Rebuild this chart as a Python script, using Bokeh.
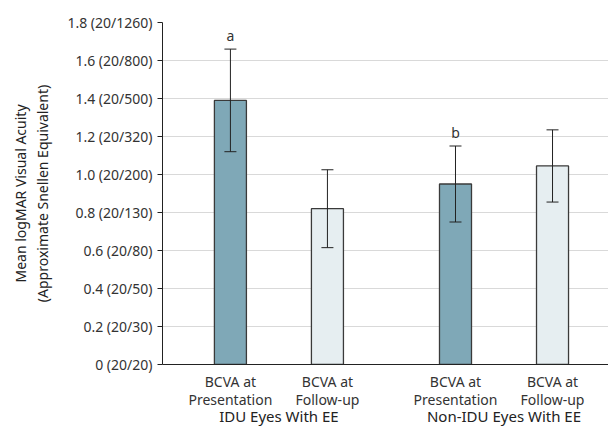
from bokeh.plotting import figure
from bokeh.models import ColumnDataSource, Range1d, FixedTicker, LinearAxis, Whisker, TeeHead
from bokeh.core.properties import value
from bokeh.embed import file_html
from bokeh.resources import INLINE

groups = ["IDU Eyes With EE", "Non-IDU Eyes With EE"]
conditions_line1 = ["BCVA at", "BCVA at"]
conditions_line2 = ["Presentation", "Follow-up"]
means = [1.39, 0.82, 0.95, 1.045]
upper = [1.66, 1.025, 1.15, 1.235]
lower = [1.12, 0.615, 0.75, 0.855]
annotations = ["a", "", "b", ""]
y_ticks = [0, 0.2, 0.4, 0.6, 0.8, 1.0, 1.2, 1.4, 1.6, 1.8]
y_tick_labels = ["0 (20/20)", "0.2 (20/30)", "0.4 (20/50)", "0.6 (20/80)", "0.8 (20/130)",
                 "1.0 (20/200)", "1.2 (20/320)", "1.4 (20/500)", "1.6 (20/800)", "1.8 (20/1260)"]

FONT = "Noto Sans"
GAP = 0.32
xs, fills, over1, over2 = [], [], {}, {}
for gi, g in enumerate(groups):
    for ci in range(len(conditions_line1)):
        x = gi * (2 + GAP) + ci + 0.5
        xs.append(x)
        fills.append("#7fa8b7" if ci == 0 else "#e6eef1")
        over1[x] = conditions_line1[ci]
        over2[x] = conditions_line2[ci]
group_centers = [gi * (2 + GAP) + 1.0 for gi in range(len(groups))]

src = ColumnDataSource(dict(x=xs, top=means, upper=upper, lower=lower, fill=fills, ann=annotations))

p = figure(width=608, height=434, output_backend="svg", toolbar_location=None,
           x_range=Range1d(-0.2, 4.397), y_range=Range1d(0, 1.8),
           min_border_left=162, min_border_right=0, min_border_top=22, min_border_bottom=70)
p.outline_line_color = None
p.xgrid.grid_line_color = None
p.ygrid.grid_line_color = "#d9d9d9"
p.ygrid.grid_line_width = 1
p.ygrid.ticker = FixedTicker(ticks=y_ticks)

p.vbar(x="x", top="top", width=0.33, bottom=0, source=src, fill_color="fill",
       line_color="#3a3a3a", line_width=1.3)
w = Whisker(source=src, base="x", upper="upper", lower="lower", line_color="#222222", line_width=1,
            level="overlay",
            upper_head=TeeHead(size=12, line_color="#222222", line_width=1),
            lower_head=TeeHead(size=12, line_color="#222222", line_width=1))
p.add_layout(w)
p.text(x="x", y="upper", text="ann", source=src, text_align="center", text_baseline="bottom",
       y_offset=-4, text_font=value(FONT), text_font_size="14px", text_color="#333333")

# y axis
ya = p.yaxis[0]
ya.ticker = FixedTicker(ticks=y_ticks)
ya.major_label_overrides = {t: l for t, l in zip(y_ticks, y_tick_labels)}
ya.axis_label = "Mean logMAR Visual Acuity\n(Approximate Snellen Equivalent)"
ya.axis_label_text_font = FONT
ya.axis_label_text_font_size = "14px"
ya.axis_label_text_font_style = "normal"
ya.axis_label_text_color = "#222222"
ya.axis_label_standoff = 12
ya.major_label_text_font = FONT
ya.major_label_text_font_size = "14px"
ya.major_label_text_color = "#333333"
ya.major_label_standoff = 5
ya.major_tick_out = 5
ya.major_tick_in = 0
ya.minor_tick_line_color = None
ya.axis_line_color = "#222222"
ya.major_tick_line_color = "#222222"


def style_x(ax, size, standoff, color="#333333"):
    ax.major_tick_line_color = None
    ax.minor_tick_line_color = None
    ax.major_tick_out = 0
    ax.major_tick_in = 0
    ax.minor_tick_out = 0
    ax.minor_tick_in = 0
    ax.major_label_text_font = FONT
    ax.major_label_text_font_size = size
    ax.major_label_text_color = color
    ax.major_label_standoff = standoff


# x axis (condition line 1)
xa = p.xaxis[0]
xa.ticker = FixedTicker(ticks=xs)
xa.major_label_overrides = over1
xa.axis_line_color = "#222222"
style_x(xa, "14px", 7)

# condition line 2
xb = LinearAxis(ticker=FixedTicker(ticks=xs), major_label_overrides=over2)
xb.axis_line_color = None
style_x(xb, "14px", -4)
p.add_layout(xb, "below")

# group labels
ga = LinearAxis(ticker=FixedTicker(ticks=group_centers),
                major_label_overrides={c: g for c, g in zip(group_centers, groups)})
ga.axis_line_color = None
style_x(ga, "15px", -6, "#222222")
p.add_layout(ga, "below")

open("out.html", "w").write(file_html(p, INLINE))
